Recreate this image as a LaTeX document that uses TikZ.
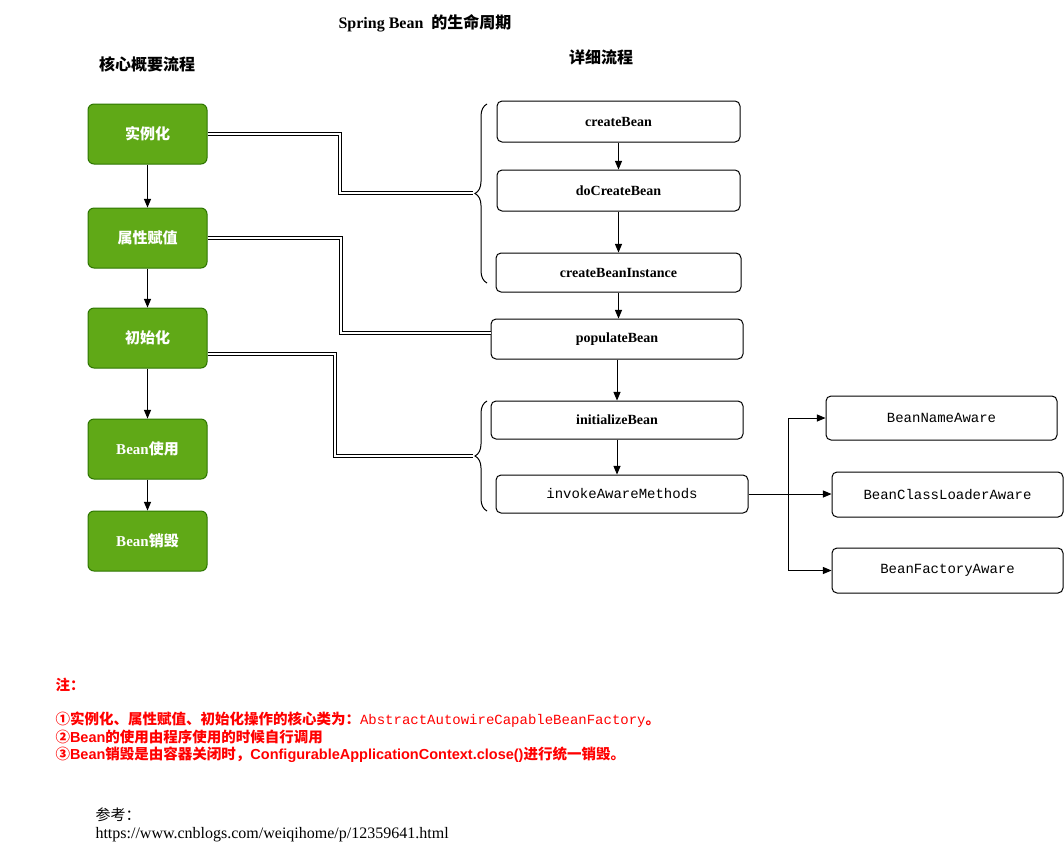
\documentclass[tikz,border=0pt]{standalone}
\usepackage{fontspec}
\setmainfont{Liberation Serif}
\setmonofont{Liberation Mono}
\newfontfamily\cjk{Noto Sans CJK SC}
\newfontfamily\sansf{Liberation Sans}
\usetikzlibrary{arrows}
\usetikzlibrary{decorations.pathreplacing}
\definecolor{leaf}{HTML}{60A917}
\definecolor{leafline}{HTML}{2D7600}

\begin{document}
\begin{tikzpicture}[x=1pt, y=-1pt, >=triangle 45, line width=1pt,
  core/.style={draw=leafline, fill=leaf, rounded corners=6pt, text=white,
    minimum width=119pt, minimum height=60pt, font=\cjk\bfseries\fontsize{15}{17}\selectfont},
  step box/.style={draw, rounded corners=5pt, minimum width=243pt, minimum height=41pt,
    font=\bfseries\fontsize{14}{16}\selectfont},
  aware/.style={draw, rounded corners=5pt, minimum width=231pt, minimum height=45pt,
    font=\ttfamily\fontsize{14}{16}\selectfont},
  dbl/.style={double, double distance=2.5pt, line width=1pt},
  curly/.style={decorate, decoration={brace, amplitude=12pt}},
  note/.style={anchor=west, text=red, inner sep=0pt, font=\bfseries\fontsize{14.5}{17}\selectfont}]
\useasboundingbox (0,0) rectangle (1064,847);

% titles
\node (title) at (425,23) {\bfseries\fontsize{16}{18}\selectfont Spring Bean\ \ {\cjk 的生命周期}};
\node (lefthead) at (147,64) {\cjk\bfseries\fontsize{16}{18}\selectfont 核心概要流程};
\node (righthead) at (601,57) {\cjk\bfseries\fontsize{16}{18}\selectfont 详细流程};

% core flow
\node [core] (inst) at (147.5,134) {实例化};
\node [core] (attr) at (147.5,238) {属性赋值};
\node [core] (init) at (147.5,338) {初始化};
\node [core] (use)  at (147.5,449) {\fontspec{Liberation Serif}\bfseries Bean{\cjk 使用}};
\node [core] (kill) at (147.5,541) {\fontspec{Liberation Serif}\bfseries Bean{\cjk 销毁}};
\draw [->] (inst) -- (attr);
\draw [->] (attr) -- (init);
\draw [->] (init) -- (use);
\draw [->] (use) -- (kill);

% detail flow
\node [step box] (create) at (618.5,121.5) {createBean};
\node [step box] (docreate) at (618.5,190.5) {doCreateBean};
\node [step box, minimum width=245pt, minimum height=39pt] (instance) at (618.5,272.5) {createBeanInstance};
\node [step box, minimum width=252pt, minimum height=40pt] (populate) at (617,339) {populateBean};
\node [step box, minimum width=252pt, minimum height=38pt] (initbean) at (617,420) {initializeBean};
\node [step box, minimum width=252pt, minimum height=38pt, font=\ttfamily\fontsize{14}{16}\selectfont] (invoke) at (622,494) {invokeAwareMethods};
\draw [->] (create) -- (docreate);
\draw [->] (docreate) -- (instance);
\draw [->] (instance.south) -- (instance.south |- populate.north);
\draw [->] (populate.south) -- (populate.south |- initbean.north);
\draw [->] (initbean.south) -- (initbean.south |- invoke.north);

% aware interfaces
\node [aware, minimum height=44pt] (namea) at (941.5,418) {BeanNameAware};
\node [aware] (loadera) at (947.5,494.5) {BeanClassLoaderAware};
\node [aware] (factorya) at (947.5,570.5) {BeanFactoryAware};
\coordinate (split) at (788,494);
\draw [->] (invoke.east) -- (invoke.east -| loadera.west);
\draw [->] (split) |- (namea.west);
\draw [->] (split) |- (factorya.west);

% braces
\draw [curly] (487,283) -- (487,104);
\draw [curly] (487,511) -- (487,401);
\coordinate (tip1) at (473,193);
\coordinate (tip2) at (473,456);

% links core -> detail
\draw [dbl] (inst.east) -- (340,134) |- (tip1);
\draw [dbl] (attr.east) -- (341,238) |- ([yshift=6pt]populate.west);
\draw [dbl] ([yshift=-16pt]init.east) -- (335,354) |- (tip2);

% notes
\node [note] (n0) at (55,685) {\cjk 注：};
\node [note] (n1) at (55,720) {{\cjk ①实例化、属性赋值、初始化操作的核心类为：}{\mdseries\ttfamily\fontsize{14}{16}\selectfont AbstractAutowireCapableBeanFactory}{\cjk 。}};
\node [note] (n2) at (55,737) {{\cjk ②}{\sansf Bean}{\cjk 的使用由程序使用的时候自行调用}};
\node [note] (n3) at (55,755) {{\cjk ③}{\sansf Bean}{\cjk 销毁是由容器关闭时，}{\sansf ConfigurableApplicationContext.close()}{\cjk 进行统一销毁。}};

% reference
\node [anchor=west, inner sep=0pt] (refhead) at (95,815) {\cjk\fontsize{15}{17}\selectfont 参考：};
\node [anchor=west, inner sep=0pt] (refurl) at (95,835) {\fontsize{16}{18}\selectfont https://www.cnblogs.com/weiqihome/p/12359641.html};
\end{tikzpicture}
\end{document}
